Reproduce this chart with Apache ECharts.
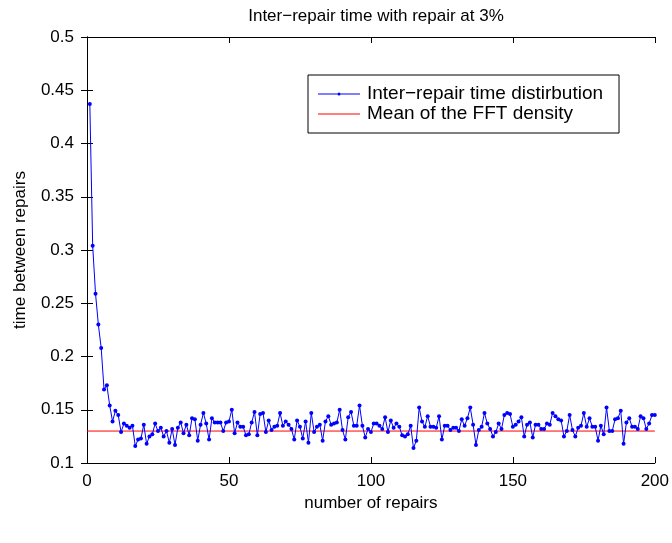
<!DOCTYPE html>
<html>
<head>
<meta charset="utf-8">
<script src="https://cdn.jsdelivr.net/npm/echarts@6/dist/echarts.min.js"></script>
<style>
html,body{margin:0;padding:0;background:#fff;}
#chart{width:672px;height:543px;}
</style>
</head>
<body>
<div id="chart"></div>
<script>
// ---- data ----
const titleText = 'Inter\u2212repair time with repair at 3%';
const xAxisName = 'number of repairs';
const yAxisName = 'time between repairs';
const seriesNames = ['Inter\u2212repair time distirbution', 'Mean of the FFT density'];
const xTicks = [0, 50, 100, 150, 200];
const yTicks = [0.1, 0.15, 0.2, 0.25, 0.3, 0.35, 0.4, 0.45, 0.5];
const repairTimes = [
  0.437, 0.304, 0.259, 0.230, 0.208, 0.169, 0.173, 0.154, 0.139, 0.149,
  0.145, 0.129, 0.137, 0.135, 0.133, 0.135, 0.116, 0.122, 0.123, 0.136,
  0.118, 0.125, 0.127, 0.137, 0.130, 0.133, 0.125, 0.130, 0.119, 0.132,
  0.117, 0.133, 0.138, 0.128, 0.136, 0.126, 0.142, 0.141, 0.121, 0.136,
  0.147, 0.137, 0.122, 0.142, 0.138, 0.138, 0.138, 0.130, 0.138, 0.139,
  0.150, 0.128, 0.138, 0.134, 0.134, 0.126, 0.127, 0.138, 0.148, 0.126,
  0.146, 0.147, 0.129, 0.140, 0.131, 0.134, 0.135, 0.147, 0.135, 0.139,
  0.136, 0.132, 0.122, 0.140, 0.134, 0.123, 0.139, 0.119, 0.147, 0.129,
  0.134, 0.136, 0.121, 0.139, 0.144, 0.136, 0.137, 0.138, 0.150, 0.131,
  0.122, 0.143, 0.148, 0.135, 0.135, 0.154, 0.135, 0.124, 0.132, 0.129,
  0.137, 0.137, 0.135, 0.132, 0.143, 0.129, 0.140, 0.133, 0.137, 0.134,
  0.126, 0.125, 0.127, 0.135, 0.114, 0.121, 0.152, 0.139, 0.134, 0.144,
  0.134, 0.134, 0.133, 0.144, 0.122, 0.135, 0.135, 0.131, 0.133, 0.133,
  0.130, 0.141, 0.135, 0.142, 0.152, 0.136, 0.117, 0.131, 0.134, 0.147,
  0.137, 0.132, 0.125, 0.129, 0.137, 0.132, 0.145, 0.147, 0.146, 0.134,
  0.136, 0.139, 0.143, 0.125, 0.136, 0.138, 0.124, 0.136, 0.136, 0.132,
  0.132, 0.137, 0.136, 0.147, 0.144, 0.141, 0.140, 0.125, 0.130, 0.145,
  0.131, 0.125, 0.133, 0.135, 0.147, 0.134, 0.142, 0.134, 0.134, 0.121,
  0.135, 0.127, 0.152, 0.130, 0.130, 0.141, 0.142, 0.149, 0.118, 0.138,
  0.142, 0.134, 0.134, 0.132, 0.144, 0.142, 0.132, 0.137, 0.145, 0.145
];
const meanValue = 0.130;
const xRange = [0, 200];

// ---- build ----
const lineData = repairTimes.map((v, i) => [i + 1, v]);
const meanData = xRange.map(x => [x, meanValue]);
const FONT = 'Liberation Sans, Arial, Helvetica, sans-serif';
const FS = 17;

const chart = echarts.init(document.getElementById('chart'), null, {renderer: 'canvas'});
const axisCommon = {
  axisLine: {show: true, lineStyle: {color: '#000', width: 1}},
  axisTick: {show: true, inside: true, length: 6, lineStyle: {color: '#000'}},
  splitLine: {show: false}
};
const iconDotLine = 'path://M0,1.5 L42,1.5 L42,2.5 L0,2.5 Z M19.5,2 A1.5,1.5 0 1,1 22.5,2 A1.5,1.5 0 1,1 19.5,2 Z';
const iconLine = 'path://M0,0 L42,0 L42,1 L0,1 Z';
chart.setOption({
  animation: false,
  backgroundColor: '#fff',
  title: {
    text: titleText, left: 371, top: 3, textAlign: 'center',
    textStyle: {fontFamily: FONT, fontSize: FS, fontWeight: 'normal', color: '#000'}
  },
  grid: {left: 87, right: 17, top: 37, bottom: 80, containLabel: false},
  legend: {
    orient: 'vertical', left: 308, top: 75,
    padding: [9, 16, 9, 10],
    itemGap: 0, itemWidth: 42, itemHeight: 4,
    symbolKeepAspect: true,
    backgroundColor: '#fff', borderColor: '#000', borderWidth: 1,
    textStyle: {fontFamily: FONT, fontSize: 19, color: '#000', lineHeight: 20, padding: [0, 0, 0, 2]},
    data: [
      {name: seriesNames[0], icon: iconDotLine, itemStyle: {color: '#0000ff'}},
      {name: seriesNames[1], icon: iconLine, itemStyle: {color: '#ff0000'}}
    ]
  },
  xAxis: [
    Object.assign({
      type: 'value', min: xRange[0], max: xRange[1], interval: 50, position: 'bottom',
      name: xAxisName, nameLocation: 'middle', nameGap: 28,
      nameTextStyle: {fontFamily: FONT, fontSize: FS, color: '#000'},
      axisLabel: {fontFamily: FONT, fontSize: FS, color: '#000', margin: 10,
        formatter: v => xTicks.includes(v) ? String(v) : ''}
    }, axisCommon),
    Object.assign({
      type: 'value', min: xRange[0], max: xRange[1], interval: 50, position: 'top',
      axisLabel: {show: false}
    }, axisCommon)
  ],
  yAxis: [
    Object.assign({
      type: 'value', min: 0.1, max: 0.5, interval: 0.05, position: 'left',
      name: yAxisName, nameLocation: 'middle', nameGap: 58,
      nameTextStyle: {fontFamily: FONT, fontSize: FS, color: '#000'},
      axisLabel: {fontFamily: FONT, fontSize: FS, color: '#000', margin: 13,
        formatter: v => String(+v.toFixed(2))}
    }, axisCommon),
    Object.assign({
      type: 'value', min: 0.1, max: 0.5, interval: 0.05, position: 'right',
      axisLabel: {show: false}
    }, axisCommon)
  ],
  series: [
    {
      name: seriesNames[0], type: 'line', data: lineData,
      xAxisIndex: 0, yAxisIndex: 0,
      symbol: 'circle', symbolSize: 4, showSymbol: true,
      itemStyle: {color: '#0000ff'},
      lineStyle: {color: '#0000ff', width: 1},
      z: 3
    },
    {
      name: seriesNames[1], type: 'line', data: meanData,
      xAxisIndex: 0, yAxisIndex: 0,
      symbol: 'none',
      itemStyle: {color: '#ff0000'},
      lineStyle: {color: '#ff0000', width: 1},
      z: 2
    }
  ]
});
</script>
</body>
</html>
